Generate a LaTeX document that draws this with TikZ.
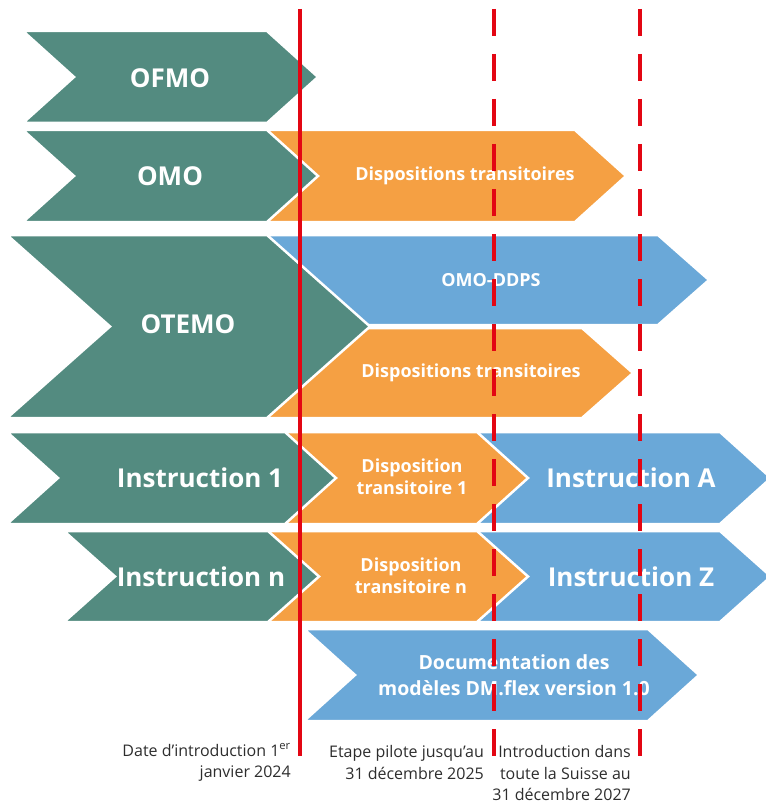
\documentclass[tikz,border=0pt]{standalone}
\usepackage{fontspec}
\setmainfont{Open Sans}
\usepackage{tikz}

\definecolor{ordteal}{RGB}{83,139,128}
\definecolor{ordorange}{RGB}{245,160,67}
\definecolor{ordblue}{RGB}{106,168,216}
\definecolor{datered}{RGB}{227,6,19}
\definecolor{labelgray}{RGB}{45,45,45}

% style, x left, x right, y top, y bottom, tip depth
\newcommand{\chevronshape}[6]{%
  \path[#1] (#2,#4) -- (#3,#4) -- ({#3+#6},{(#4+#5)/2}) -- (#3,#5)
    -- (#2,#5) -- ({#2+#6},{(#4+#5)/2}) -- cycle;}

\tikzset{
  bar/.style = {draw=white, line width=2.5pt, line join=miter},
  tealbar/.style = {bar, fill=ordteal},
  orangebar/.style = {bar, fill=ordorange},
  bluebar/.style = {bar, fill=ordblue},
  acttext/.style = {text=white, inner sep=0pt, font=\bfseries\fontsize{26}{30}\selectfont},
  insttext/.style = {text=white, inner sep=0pt, font=\bfseries\fontsize{26}{30}\selectfont},
  stagetext/.style = {text=white, inner sep=0pt, align=center, font=\bfseries\fontsize{18}{22}\selectfont},
  datetext/.style = {text=labelgray, inner sep=0pt, align=right, anchor=east, font=\fontsize{16}{21.5}\selectfont},
  milestone/.style = {draw=datered, line width=4.5pt},
  pilotline/.style = {milestone, dash pattern=on 27pt off 18pt}
}

\begin{document}
\begin{tikzpicture}[x=1pt, y=-1pt]
  \useasboundingbox (0,0) rectangle (765,805);

  % blue bars (back layer)
  \chevronshape{bluebar}{200}{658}{235}{325}{51}
  \chevronshape{bluebar}{440}{720}{432}{524}{51}
  \chevronshape{bluebar}{440}{720}{531}{622}{51}
  \chevronshape{bluebar}{304}{648}{629}{721}{51}

  % orange bars
  \chevronshape{orangebar}{230}{575}{130}{222}{51}
  \chevronshape{orangebar}{230}{582}{328}{418}{51}
  \chevronshape{orangebar}{250}{477}{432}{524}{51}
  \chevronshape{orangebar}{250}{477}{531}{622}{51}

  % teal bars (front layer)
  \chevronshape{tealbar}{23}{267}{31}{123}{51}
  \chevronshape{tealbar}{23}{267}{130}{222}{51}
  \chevronshape{tealbar}{7}{267}{235}{418}{103}
  \chevronshape{tealbar}{7}{285}{432}{524}{51}
  \chevronshape{tealbar}{64}{268}{531}{622}{51}

  % labels in the bars
  \node[acttext] (ofmo) at (170,78) {OFMO};
  \node[acttext] (omo) at (170,176) {OMO};
  \node[acttext] (otemo) at (188,324) {OTEMO};
  \node[stagetext] (omotrans) at (465,176) {Dispositions transitoires};
  \node[stagetext] (ddps) at (491,280) {OMO-DDPS};
  \node[stagetext] (otemotrans) at (471,373) {Dispositions transitoires};
  \node[insttext] (instone) at (200,478) {Instruction 1};
  \node[insttext] (instn) at (201,577) {Instruction n};
  \node[stagetext] (transone) at (412,477) {Disposition\\transitoire 1};
  \node[stagetext] (transn) at (411,576) {Disposition\\transitoire n};
  \node[insttext] (insta) at (631,478) {Instruction A};
  \node[insttext] (instz) at (631,577) {Instruction Z};
  \node[stagetext, font=\bfseries\fontsize{19.5}{26}\selectfont] (dmflex) at (514,675)
    {Documentation des\\modèles DM.flex version 1.0};

  % dates under the lines
  \node[datetext] (startdate) at (291,762.5) {Date d’introduction 1\textsuperscript{er}\\janvier 2024};
  \node[datetext] (pilotdate) at (484,762.5) {Etape pilote jusqu’au\\31 décembre 2025};
  \node[datetext] (fulldate) at (631,773) {Introduction dans\\toute la Suisse au\\31 décembre 2027};

  % red lines
  \coordinate (start-top) at (300,9);
  \coordinate (start-bot) at (300,756);
  \coordinate (pilot-top) at (494,9);
  \coordinate (pilot-bot) at (494,756);
  \coordinate (full-top) at (640,9);
  \coordinate (full-bot) at (640,756);
  \draw[milestone] (start-top) -- (start-bot);
  \draw[pilotline] (pilot-top) -- (pilot-bot);
  \draw[pilotline] (full-top) -- (full-bot);
\end{tikzpicture}
\end{document}
